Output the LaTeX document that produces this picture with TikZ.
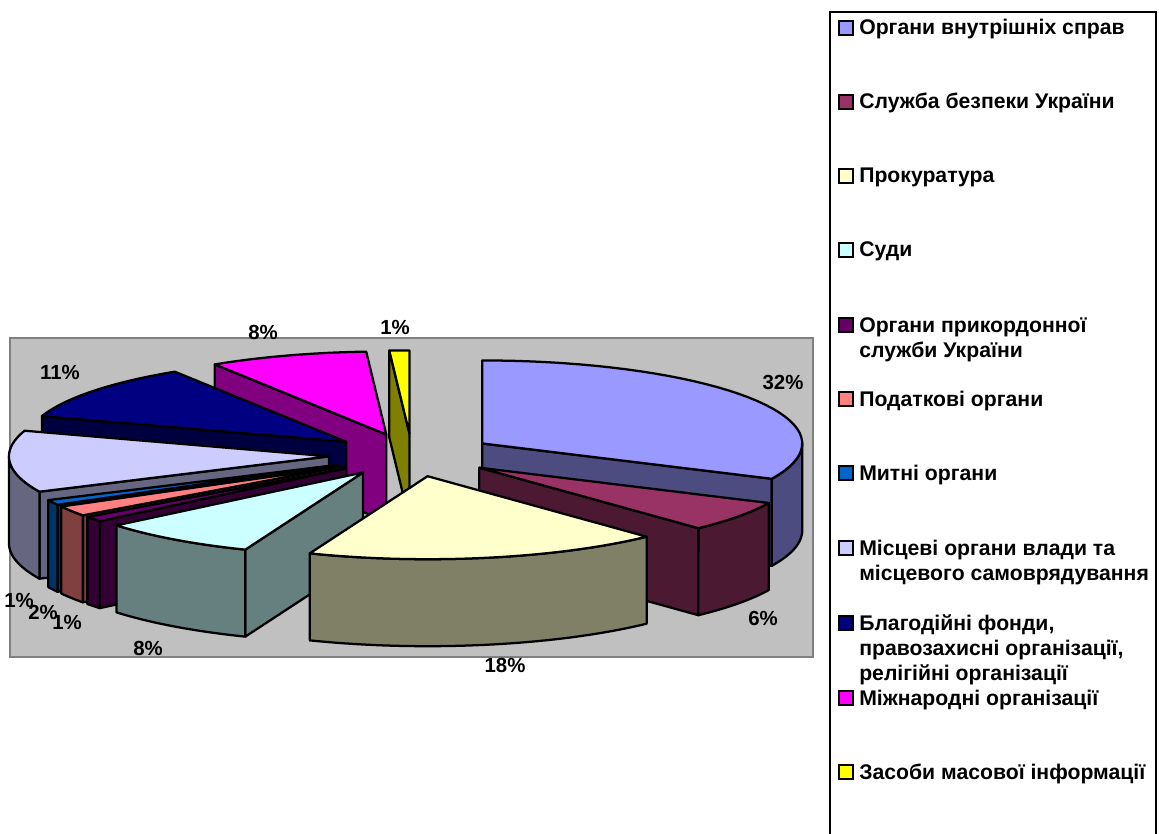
\documentclass[tikz,border=0pt]{standalone}
\usepackage{fontspec}
\setmainfont{Liberation Sans}
\usetikzlibrary{positioning}

\definecolor{cVS}{HTML}{9999FF}
\definecolor{cSBU}{HTML}{993366}
\definecolor{cProk}{HTML}{FFFFCC}
\definecolor{cSud}{HTML}{CCFFFF}
\definecolor{cPrk}{HTML}{660066}
\definecolor{cPod}{HTML}{FF8080}
\definecolor{cMyt}{HTML}{0066CC}
\definecolor{cMisc}{HTML}{CCCCFF}
\definecolor{cBF}{HTML}{000080}
\definecolor{cMO}{HTML}{FF00FF}
\definecolor{cZMI}{HTML}{FFFF00}
\definecolor{plotgray}{HTML}{C0C0C0}

\newcommand\chartfont{\bfseries\fontsize{15.3}{18.75}\selectfont}
\newcommand\legfont{\bfseries\fontsize{15.9}{18.75}\selectfont}

% pie geometry, in pixels of the picture (y grows downwards)
\newcommand\pcx{412}
\newcommand\pcy{455}
\newcommand\pieA{320}
\newcommand\pieB{83}
\newcommand\pieH{87}
\newcommand\pieK{0.26}

\tikzset{
  facet/.style={draw=black, line width=1.7pt, line join=round},
  pct/.style={font=\chartfont, inner sep=0pt},
  legtext/.style={font=\legfont, inner sep=0pt, anchor=base west, align=left},
  legkey/.style={draw=black, line width=1.2pt, minimum size=10.5pt, inner sep=0pt},
}

% one exploded slice: start angle, end angle, colour
\newcommand\pieslice[3]{%
  \pgfmathsetmacro\pmid{(#1+#2)/2}%
  \pgfmathsetmacro\ax{\pcx+\pieK*\pieA*sin(\pmid)}%
  \pgfmathsetmacro\ay{\pcy-\pieK*\pieB*cos(\pmid)}%
  \pgfmathsetmacro\ux{\ax+\pieA*sin(#1)}%
  \pgfmathsetmacro\uy{\ay-\pieB*cos(#1)}%
  \pgfmathsetmacro\vx{\ax+\pieA*sin(#2)}%
  \pgfmathsetmacro\vy{\ay-\pieB*cos(#2)}%
  \pgfmathtruncatemacro\hasstart{sin(#1)<-0.01}%
  \pgfmathtruncatemacro\hasend{sin(#2)>0.01}%
  \pgfmathsetmacro\wa{max(#1,90)}%
  \pgfmathsetmacro\wb{min(#2,270)}%
  \pgfmathtruncatemacro\haswall{\wa<\wb}%
  \ifnum\hasstart=1
    \filldraw[facet, fill=#3!50!black] (\ax,\ay) -- (\ux,\uy) -- (\ux,\uy+\pieH) -- (\ax,\ay+\pieH) -- cycle;
  \fi
  \ifnum\hasend=1
    \filldraw[facet, fill=#3!50!black] (\ax,\ay) -- (\vx,\vy) -- (\vx,\vy+\pieH) -- (\ax,\ay+\pieH) -- cycle;
  \fi
  \ifnum\haswall=1
    \filldraw[facet, fill=#3!50!black]
      plot[domain=\wa:\wb, samples=40, variable=\t] ({\ax+\pieA*sin(\t)},{\ay-\pieB*cos(\t)})
      -- plot[domain=\wb:\wa, samples=40, variable=\t] ({\ax+\pieA*sin(\t)},{\ay-\pieB*cos(\t)+\pieH})
      -- cycle;
  \fi
  \filldraw[facet, fill=#3] (\ax,\ay)
    -- plot[domain=#1:#2, samples=40, variable=\t] ({\ax+\pieA*sin(\t)},{\ay-\pieB*cos(\t)})
    -- cycle;
}

\begin{document}
\begin{tikzpicture}[x=0.75pt, y=-0.75pt]
\useasboundingbox (0,0) rectangle (1159,834);
\fill[white] (0,0) rectangle (1159,834);

% plot area
\filldraw[fill=plotgray, draw=gray, line width=1.5pt] (10,338) rectangle (813,657);

% slices, back to front
\pieslice{0}{115.2}{cVS}
\pieslice{115.2}{136.8}{cSBU}
\pieslice{356.4}{360}{cZMI}
\pieslice{327.6}{356.4}{cMO}
\pieslice{288}{327.6}{cBF}
\pieslice{244.8}{288}{cMisc}
\pieslice{241.2}{244.8}{cMyt}
\pieslice{234}{241.2}{cPod}
\pieslice{230.4}{234}{cPrk}
\pieslice{201.6}{230.4}{cSud}
\pieslice{136.8}{201.6}{cProk}

% percentages
\node[pct] (p1) at (783,382) {32\%};
\node[pct] (p2) at (763,618) {6\%};
\node[pct] (p3) at (505,665) {18\%};
\node[pct] (p4) at (148,648) {8\%};
\node[pct] (p5) at (67,622) {1\%};
\node[pct] (p6) at (43,612) {2\%};
\node[pct] (p7) at (19,600) {1\%};
\node[pct] (p9) at (60,372) {11\%};
\node[pct] (p10) at (263,332) {8\%};
\node[pct] (p11) at (395,327) {1\%};

% legend (base anchor sits on the last line)
\draw[line width=1.5pt] (830,12) rectangle (1156,850);
\node[legkey, fill=cVS] (k1) at (846,28) {};
\node[legtext] (l1) at (859,35) {Органи внутрішніх справ};
\node[legkey, fill=cSBU] (k2) at (846,102) {};
\node[legtext] (l2) at (859,109) {Служба безпеки України};
\node[legkey, fill=cProk] (k3) at (846,176) {};
\node[legtext] (l3) at (859,183) {Прокуратура};
\node[legkey, fill=cSud] (k4) at (846,250) {};
\node[legtext] (l4) at (859,257) {Суди};
\node[legkey, fill=cPrk] (k5) at (846,325) {};
\node[legtext] (l5) at (859,357) {Органи прикордонної\\служби України};
\node[legkey, fill=cPod] (k6) at (846,399) {};
\node[legtext] (l6) at (859,406) {Податкові органи};
\node[legkey, fill=cMyt] (k7) at (846,473) {};
\node[legtext] (l7) at (859,480) {Митні органи};
\node[legkey, fill=cMisc] (k8) at (846,548) {};
\node[legtext] (l8) at (859,580) {Місцеві органи влади та\\місцевого самоврядування};
\node[legkey, fill=cBF] (k9) at (846,623) {};
\node[legtext] (l9) at (859,680) {Благодійні фонди,\\правозахисні організації,\\релігійні організації};
\node[legkey, fill=cMO] (k10) at (846,698) {};
\node[legtext] (l10) at (859,705) {Міжнародні організації};
\node[legkey, fill=cZMI] (k11) at (846,772) {};
\node[legtext] (l11) at (859,779) {Засоби масової інформації};
\end{tikzpicture}
\end{document}
